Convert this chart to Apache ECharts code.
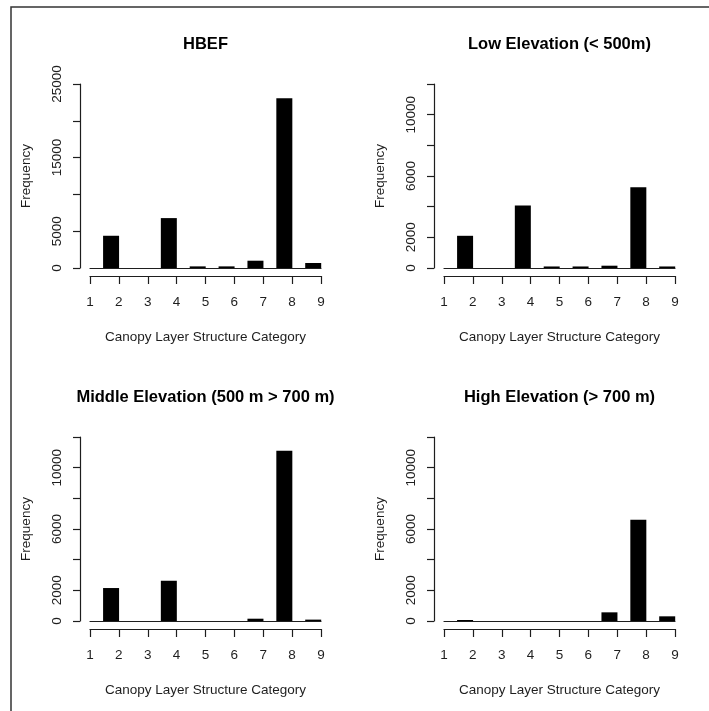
<!DOCTYPE html>
<html>
<head>
<meta charset="utf-8">
<script src="https://cdn.jsdelivr.net/npm/echarts@6/dist/echarts.min.js"></script>
<style>html,body{margin:0;padding:0;background:#fff;}#c{width:709px;height:711px;}</style>
</head>
<body>
<div id="c"></div>
<script>
// upper edge of each histogram bin (bins 1-2, 2-3, ..., 8-9)
const binUpper = [2, 3, 4, 5, 6, 7, 8, 9];
const xTickValues = [1, 2, 3, 4, 5, 6, 7, 8, 9];
const panelTitles = ["HBEF", "Low Elevation (< 500m)", "Middle Elevation (500 m > 700 m)", "High Elevation (> 700 m)"];
const hbefFreq   = [4380, 0, 6780, 220, 220, 990, 23050, 680];
const lowFreq    = [2100, 0, 4080, 100, 100, 150, 5260, 100];
const middleFreq = [2150, 0, 2625, 0, 0, 150, 11100, 90];
const highFreq   = [65, 0, 0, 0, 0, 565, 6600, 305];
const yMaxes = [25000, 12000, 12000, 12000];
const yIntervals = [5000, 2000, 2000, 2000];
const yLabelsShown = [[0, 5000, 15000, 25000], [0, 2000, 6000, 10000], [0, 2000, 6000, 10000], [0, 2000, 6000, 10000]];
const xTitle = "Canopy Layer Structure Category";
const yTitle = "Frequency";

const panelData = [hbefFreq, lowFreq, middleFreq, highFreq];
const FONT = '"Liberation Sans", Arial, sans-serif';
const INK = '#1e1e1e';
const grids = [
  {left: 90, top: 84, width: 231, height: 184},
  {left: 444, top: 84, width: 231, height: 184},
  {left: 90, top: 437, width: 231, height: 184},
  {left: 444, top: 437, width: 231, height: 184}
];
const barFrac = 0.54;

const xAxes = [], yAxes = [], series = [], graphics = [];
grids.forEach((g, i) => {
  xAxes.push({
    gridIndex: i, type: 'value', min: xTickValues[0], max: xTickValues[xTickValues.length - 1], interval: 1,
    position: 'bottom', offset: 8,
    name: xTitle, nameLocation: 'middle', nameGap: 54,
    nameTextStyle: {fontFamily: FONT, fontSize: 13.5, color: INK},
    axisLine: {show: true, onZero: false, lineStyle: {color: INK, width: 1.2}},
    axisTick: {show: true, length: 8, lineStyle: {color: INK, width: 1.2}},
    axisLabel: {show: true, margin: 19, fontFamily: FONT, fontSize: 13.5, color: INK},
    splitLine: {show: false}
  });
  xAxes.push({
    gridIndex: i, type: 'value', min: xTickValues[0], max: xTickValues[xTickValues.length - 1], interval: 1,
    position: 'bottom', offset: 0,
    axisLine: {show: true, onZero: false, lineStyle: {color: INK, width: 1.2}},
    axisTick: {show: false}, axisLabel: {show: false}, splitLine: {show: false}
  });
  const shown = yLabelsShown[i];
  yAxes.push({
    gridIndex: i, type: 'value', min: 0, max: yMaxes[i], interval: yIntervals[i],
    position: 'left', offset: 10,
    name: yTitle, nameLocation: 'middle', nameGap: 47, nameRotate: 90,
    nameTextStyle: {fontFamily: FONT, fontSize: 13.5, color: INK},
    axisLine: {show: true, lineStyle: {color: INK, width: 1.2}},
    axisTick: {show: true, length: 7, lineStyle: {color: INK, width: 1.2}},
    axisLabel: {show: true, rotate: 90, margin: 16, fontFamily: FONT, fontSize: 13.5, color: INK,
      formatter: v => shown.indexOf(v) >= 0 ? String(v) : ''},
    splitLine: {show: false}
  });
  series.push({
    type: 'bar', xAxisIndex: 2 * i, yAxisIndex: i,
    barWidth: 16,
    itemStyle: {color: '#000'},
    data: panelData[i].map((v, k) => [binUpper[k] - barFrac / 2, v]),
    silent: true
  });
  graphics.push({
    type: 'text', x: g.left + g.width / 2, y: (i < 2 ? 44 : 397),
    style: {text: panelTitles[i], font: 'bold 16.5px ' + FONT, fill: '#000', textAlign: 'center', textVerticalAlign: 'middle'}
  });
});
graphics.push({type: 'rect', shape: {x: 11, y: 7, width: 900, height: 900}, style: {fill: 'none', stroke: '#333', lineWidth: 1.5}});

const chart = echarts.init(document.getElementById('c'), null, {renderer: 'canvas'});
chart.setOption({
  animation: false,
  backgroundColor: '#fff',
  grid: grids,
  xAxis: xAxes,
  yAxis: yAxes,
  series: series,
  graphic: graphics
});
</script>
</body>
</html>
